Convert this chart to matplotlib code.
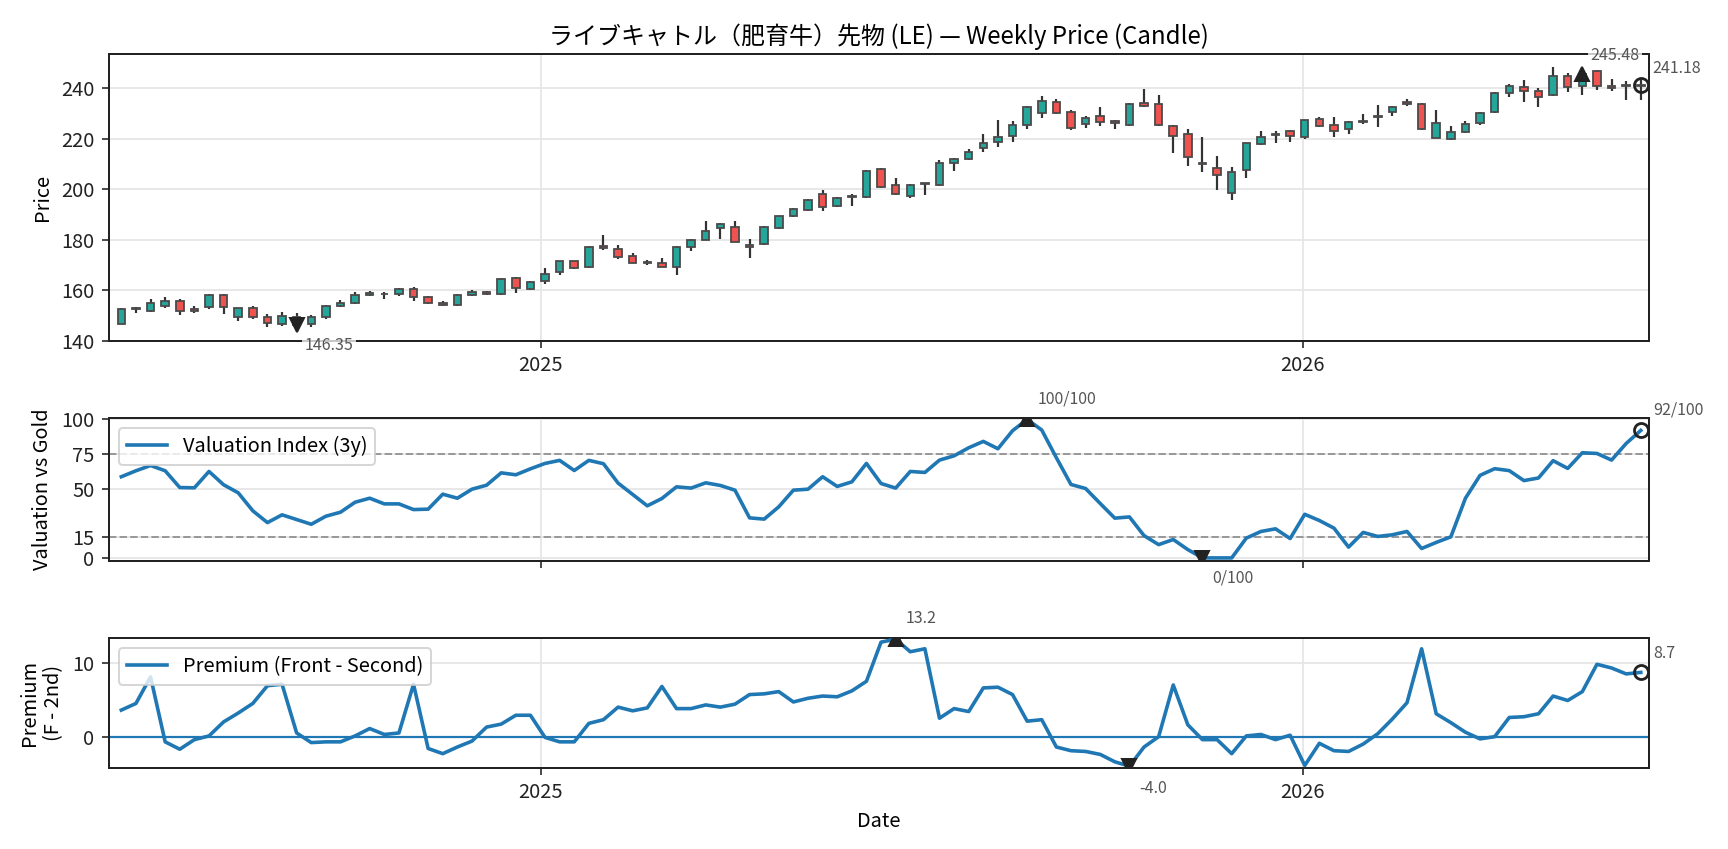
import numpy as np
import pandas as pd
import matplotlib
matplotlib.use("Agg")
import matplotlib.pyplot as plt
import matplotlib.dates as mdates

plt.rcParams['font.family'] = ['Noto Sans CJK JP', 'DejaVu Sans']

dates = pd.date_range('2024-06-14', periods=105, freq='W-FRI')

opens = [146.7, 152.6, 151.7, 153.8, 155.9, 152.4, 153.2, 158.2, 149.2, 152.8,
         149.2, 146.6, 149.3, 146.8, 149.2, 153.8, 154.8, 158.2, 158.3, 158.5,
         160.3, 157.4, 155.0, 154.1, 158.2, 159.4, 158.5, 164.9, 160.3, 163.5,
         167.0, 171.4, 169.3, 177.6, 176.4, 173.6, 171.3, 170.9, 169.1, 177.0,
         179.8, 184.8, 185.1, 177.7, 178.2, 184.7, 189.3, 191.7, 198.1, 193.3,
         196.8, 196.8, 207.9, 201.7, 197.3, 202.2, 201.8, 210.4, 211.9, 216.2,
         218.6, 221.0, 225.3, 230.2, 234.3, 230.7, 225.7, 229.0, 227.0, 225.3,
         234.1, 233.9, 225.0, 221.7, 209.8, 208.4, 198.4, 207.5, 218.0, 221.6,
         222.9, 220.7, 227.8, 225.4, 223.7, 226.5, 228.5, 230.4, 234.6, 233.9,
         220.4, 219.8, 222.5, 226.0, 230.4, 238.2, 240.3, 238.9, 237.2, 244.8,
         241.0, 246.8, 240.9, 241.0, 241.0]
highs = [152.9, 153.5, 156.5, 157.3, 156.6, 153.6, 158.3, 158.5, 152.9, 153.7,
         150.4, 151.2, 150.9, 150.0, 154.0, 156.3, 159.1, 159.5, 159.4, 160.8,
         161.1, 157.7, 155.8, 158.4, 160.0, 159.8, 165.0, 165.4, 163.5, 168.6,
         171.5, 171.6, 177.4, 181.8, 177.7, 174.9, 171.9, 172.6, 177.3, 180.1,
         187.3, 186.4, 187.3, 180.2, 185.3, 189.5, 192.5, 196.1, 199.5, 196.8,
         198.1, 207.4, 208.3, 204.3, 202.0, 202.6, 211.5, 212.5, 215.7, 222.0,
         227.3, 226.8, 233.0, 236.8, 235.8, 231.5, 229.1, 232.4, 227.3, 234.1,
         239.5, 237.2, 225.3, 224.0, 220.8, 213.3, 208.6, 218.4, 222.9, 223.2,
         223.6, 227.5, 228.5, 228.7, 227.0, 229.9, 233.5, 233.1, 235.8, 234.2,
         231.5, 224.8, 227.1, 230.7, 238.4, 241.5, 243.4, 240.2, 248.4, 246.1,
         245.9, 247.3, 243.8, 243.0, 243.4]
lows = [146.5, 151.0, 151.4, 153.1, 150.2, 151.1, 152.4, 150.7, 147.9, 148.4,
        145.3, 145.9, 145.6, 145.3, 148.4, 153.4, 154.5, 157.7, 156.6, 157.8,
        155.8, 154.7, 153.8, 153.8, 157.8, 158.2, 158.1, 159.0, 159.9, 162.5,
        166.1, 168.5, 168.9, 176.1, 172.2, 170.6, 169.8, 169.0, 166.2, 175.6,
        179.7, 180.3, 179.0, 172.8, 178.0, 184.4, 189.0, 191.4, 191.4, 193.1,
        193.5, 196.6, 200.6, 197.7, 196.3, 197.5, 201.4, 207.2, 211.5, 214.8,
        216.7, 218.7, 224.0, 228.2, 229.9, 223.3, 224.2, 224.9, 223.8, 225.0,
        232.7, 224.9, 214.4, 209.2, 206.8, 199.7, 195.8, 204.6, 217.3, 218.4,
        218.8, 219.9, 224.6, 220.7, 221.9, 225.6, 224.6, 229.0, 233.1, 223.5,
        220.3, 219.4, 222.2, 225.2, 230.1, 236.5, 234.5, 232.6, 236.9, 238.4,
        237.2, 239.1, 238.9, 235.2, 235.2]
closes = [152.7, 152.9, 154.8, 155.8, 151.7, 151.8, 157.9, 153.2, 152.8, 149.5,
          146.9, 149.9, 146.35, 149.2, 153.7, 155.0, 158.2, 159.0, 158.6, 160.6,
          157.3, 154.9, 154.3, 158.2, 159.4, 158.6, 164.5, 160.8, 163.2, 166.4,
          171.4, 168.9, 177.2, 176.8, 173.0, 170.9, 170.9, 169.3, 176.9, 179.7,
          183.5, 186.2, 179.0, 176.9, 185.1, 189.2, 192.2, 195.8, 192.9, 196.6,
          197.2, 207.2, 200.9, 198.0, 201.7, 202.5, 210.4, 212.1, 214.9, 218.3,
          220.7, 225.4, 232.6, 234.7, 230.3, 224.4, 228.2, 226.6, 226.0, 233.9,
          232.8, 225.2, 220.9, 212.6, 210.3, 205.5, 206.7, 218.2, 220.7, 222.0,
          221.0, 227.3, 224.9, 223.2, 226.4, 226.9, 228.9, 232.6, 233.7, 223.7,
          226.2, 222.7, 225.7, 230.2, 238.1, 241.0, 238.9, 236.6, 244.8, 240.3,
          245.48, 240.7, 240.1, 241.3, 241.18]

valuation = [58.6, 62.9, 66.7, 62.9, 50.8, 50.6, 62.4, 52.8, 47.0, 34.0,
             25.5, 31.1, 27.7, 24.3, 30.1, 33.0, 40.2, 43.1, 39.0, 39.0,
             34.9, 35.2, 46.0, 43.1, 49.6, 52.5, 61.4, 60.0, 64.3, 68.2,
             70.4, 63.1, 70.4, 68.0, 54.0, 45.8, 37.6, 42.9, 51.3, 50.4,
             54.2, 52.3, 48.9, 28.9, 28.0, 36.9, 48.9, 49.6, 58.6, 51.6,
             54.9, 68.2, 53.7, 50.4, 62.4, 61.7, 70.6, 73.7, 79.5, 84.1,
             78.8, 91.8, 100.0, 92.3, 72.3, 53.0, 50.1, 39.3, 28.7, 29.6,
             16.1, 9.6, 13.3, 6.0, 0.0, 0.0, 0.0, 14.3, 19.1, 21.0,
             14.0, 31.5, 27.0, 21.5, 7.8, 18.4, 15.5, 16.7, 19.1, 6.8,
             11.2, 15.2, 43.1, 59.6, 64.4, 63.0, 55.8, 57.7, 70.2, 64.6,
             75.9, 75.4, 70.6, 82.6, 92.0]

premium = [3.6, 4.5, 8.1, -0.7, -1.7, -0.4, 0.1, 2.0, 3.2, 4.5,
           6.9, 7.1, 0.5, -0.8, -0.7, -0.7, 0.1, 1.1, 0.3, 0.5,
           7.1, -1.6, -2.3, -1.4, -0.6, 1.3, 1.7, 2.9, 2.9, -0.1,
           -0.7, -0.7, 1.8, 2.3, 4.0, 3.5, 3.9, 6.8, 3.8, 3.8,
           4.3, 4.0, 4.4, 5.7, 5.8, 6.1, 4.7, 5.2, 5.5, 5.4,
           6.2, 7.5, 12.8, 13.2, 11.5, 11.9, 2.5, 3.8, 3.4, 6.6,
           6.7, 5.7, 2.1, 2.3, -1.4, -1.9, -2.0, -2.4, -3.4, -4.0,
           -1.4, 0.0, 7.0, 1.6, -0.4, -0.4, -2.3, 0.1, 0.3, -0.4,
           0.2, -3.9, -0.9, -1.9, -2.0, -1.0, 0.4, 2.4, 4.6, 11.9,
           3.1, 1.9, 0.6, -0.3, 0.0, 2.6, 2.7, 3.1, 5.5, 4.9,
           6.1, 9.8, 9.3, 8.5, 8.7]

title = "ライブキャトル（肥育牛）先物 (LE) — Weekly Price (Candle)"

o = np.array(opens); h = np.array(highs); l = np.array(lows); c = np.array(closes)
val = np.array(valuation); prem = np.array(premium)

W, H, DPI = 1728, 849, 144
fig = plt.figure(figsize=(W / DPI, H / DPI), dpi=DPI)

L, R = 108.6, 1648.7
def frac(top, bot):
    return [L / W, 1 - bot / H, (R - L) / W, (bot - top) / H]

ax1 = fig.add_axes(frac(54, 340.7))
ax2 = fig.add_axes(frac(417.7, 560.7))
ax3 = fig.add_axes(frac(637.7, 767.7))

GREEN = '#26a69a'; RED = '#ef5350'
grid_kw = dict(color='#e6e6e6', linewidth=0.9)
txt_kw = dict(textcoords='offset points', fontsize=8, color='#555555',
              annotation_clip=False,
              bbox=dict(boxstyle='square,pad=0.15', fc='white', ec='none', alpha=0.75))

for ax in (ax1, ax2, ax3):
    ax.set_axisbelow(True)
    ax.grid(True, **grid_kw)
    for s in ax.spines.values():
        s.set_color('#222222'); s.set_linewidth(1.0)
    ax.tick_params(labelsize=10, colors='#222222', length=3.5)
    ax.xaxis.set_major_locator(mdates.YearLocator())
    ax.xaxis.set_major_formatter(mdates.DateFormatter('%Y'))
    ax.set_xlim(dates[0] - pd.Timedelta(days=6.1), dates[-1] + pd.Timedelta(days=3.8))

# --- candles
up = c >= o
colors = np.where(up, GREEN, RED)
bottoms = np.minimum(o, c)
heights = np.maximum(np.abs(c - o), 0.25)
ax1.vlines(dates, l, h, color='#333333', linewidth=1.1, zorder=2)
ax1.bar(dates, heights, bottom=bottoms, width=3.6, color=colors,
        edgecolor='#4a4a4a', linewidth=0.9, zorder=3)
ax1.set_ylim(140.0, 253.5)
ax1.set_yticks([140, 160, 180, 200, 220, 240])
ax1.set_ylabel('Price', fontsize=10)
ax1.set_title(title, fontsize=12, pad=5)

imax, imin = int(np.argmax(c)), int(np.argmin(c))
ax1.plot(dates[imax], c[imax], marker='^', color='#222222', markersize=7, zorder=5)
ax1.plot(dates[imin], c[imin], marker='v', color='#222222', markersize=7, zorder=5)
ax1.plot(dates[-1], c[-1], marker='o', mfc='none', mec='#222222', mew=1.4, markersize=7, zorder=5)
ax1.annotate(f"{c[imax]:.2f}", (dates[imax], c[imax]), xytext=(4, 5), ha='left', va='bottom', **txt_kw)
ax1.annotate(f"{c[imin]:.2f}", (dates[imin], c[imin]), xytext=(4, -6), ha='left', va='top', **txt_kw)
ax1.annotate(f"{c[-1]:.2f}", (dates[-1], c[-1]), xytext=(6, 4), ha='left', va='bottom', **txt_kw)

# --- valuation
ax2.plot(dates, val, color='#1f77b4', linewidth=1.8, label='Valuation Index (3y)', zorder=3)
ax2.axhline(75, color='#999999', linestyle='--', linewidth=1.0, zorder=2)
ax2.axhline(15, color='#999999', linestyle='--', linewidth=1.0, zorder=2)
ax2.set_ylim(-2.0, 101.2)
ax2.set_yticks([0, 15, 50, 75, 100])
ax2.set_ylabel('Valuation vs Gold', fontsize=10)
ax2.tick_params(labelbottom=False)
ax2.legend(loc='upper left', fontsize=10, framealpha=0.8)
vmax, vmin = int(np.argmax(val)), int(np.argmin(val))
ax2.plot(dates[vmax], val[vmax], marker='^', color='#222222', markersize=7, zorder=5)
ax2.plot(dates[vmin], val[vmin], marker='v', color='#222222', markersize=7, zorder=5)
ax2.plot(dates[-1], val[-1], marker='o', mfc='none', mec='#222222', mew=1.4, markersize=7, zorder=5)
ax2.annotate(f"{val[vmax]:.0f}/100", (dates[vmax], val[vmax]), xytext=(5, 6), ha='left', va='bottom', **txt_kw)
ax2.annotate(f"{val[vmin]:.0f}/100", (dates[vmin], val[vmin]), xytext=(5, -6), ha='left', va='top', **txt_kw)
ax2.annotate(f"{val[-1]:.0f}/100", (dates[-1], val[-1]), xytext=(6, 6), ha='left', va='bottom', **txt_kw)

# --- premium
ax3.plot(dates, prem, color='#1f77b4', linewidth=1.8, label='Premium (Front - Second)', zorder=3)
ax3.axhline(0, color='#1f77b4', linewidth=1.1, zorder=2)
ax3.set_ylim(-4.2, 13.4)
ax3.set_yticks([0, 10])
ax3.set_ylabel('Premium\n(F - 2nd)', fontsize=10)
ax3.set_xlabel('Date', fontsize=10)
ax3.legend(loc='upper left', fontsize=10, framealpha=0.8)
pmax, pmin = int(np.argmax(prem)), int(np.argmin(prem))
ax3.plot(dates[pmax], prem[pmax], marker='^', color='#222222', markersize=7, zorder=5)
ax3.plot(dates[pmin], prem[pmin], marker='v', color='#222222', markersize=7, zorder=5)
ax3.plot(dates[-1], prem[-1], marker='o', mfc='none', mec='#222222', mew=1.4, markersize=7, zorder=5)
ax3.annotate(f"{prem[pmax]:.1f}", (dates[pmax], prem[pmax]), xytext=(5, 6), ha='left', va='bottom', **txt_kw)
ax3.annotate(f"{prem[pmin]:.1f}", (dates[pmin], prem[pmin]), xytext=(5, -7), ha='left', va='top', **txt_kw)
ax3.annotate(f"{prem[-1]:.1f}", (dates[-1], prem[-1]), xytext=(6, 5), ha='left', va='bottom', **txt_kw)

fig.savefig('out.png', dpi=DPI)
